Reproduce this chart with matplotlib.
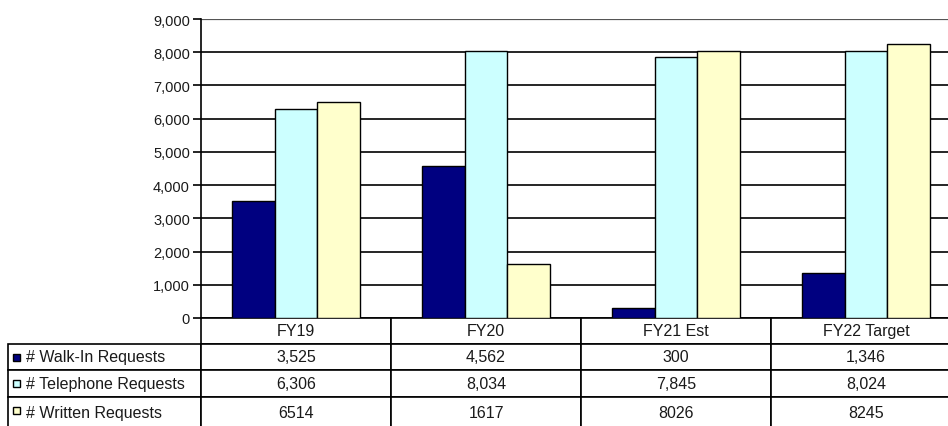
import matplotlib
matplotlib.use("Agg")
import matplotlib.pyplot as plt
from matplotlib.table import Table
from matplotlib.patches import Rectangle
import numpy as np

categories = ["FY19", "FY20", "FY21 Est", "FY22 Target"]
series_names = ["# Walk-In Requests", "# Telephone Requests", "# Written Requests"]
walk_in = [3525, 4562, 300, 1346]
telephone = [6306, 8034, 7845, 8024]
written = [6514, 1617, 8026, 8245]
walk_in_labels = ["3,525", "4,562", "300", "1,346"]
telephone_labels = ["6,306", "8,034", "7,845", "8,024"]
written_labels = ["6514", "1617", "8026", "8245"]
yticks = [0, 1000, 2000, 3000, 4000, 5000, 6000, 7000, 8000, 9000]

colors = ["#000080", "#CCFFFF", "#FFFFCC"]
series = [walk_in, telephone, written]
labels = [walk_in_labels, telephone_labels, written_labels]

plt.rcParams['font.family'] = ['Liberation Sans', 'DejaVu Sans']

W, H = 948, 427
fig = plt.figure(figsize=(W / 100, H / 100), dpi=100)
ax_l, ax_r, ax_t, ax_b = 201, 961, 20, 319
ax = fig.add_axes([ax_l / W, (H - ax_b) / H, (ax_r - ax_l) / W, (ax_b - ax_t) / H])

x = np.arange(len(categories))
bw = 0.225
for i, (vals, c) in enumerate(zip(series, colors)):
    ax.bar(x + (i - 1) * bw, vals, width=bw, color=c, edgecolor="black",
           linewidth=1.0, zorder=3)

ax.set_xlim(-0.5, len(categories) - 0.5)
ax.set_ylim(0, 9000)
ax.set_yticks(yticks)
ax.set_yticklabels([f"{v:,}" for v in yticks], fontsize=10.5, color="#1a1a1a")
ax.set_xticks([])
ax.yaxis.grid(True, color="black", linewidth=1.2, zorder=0)
ax.set_axisbelow(True)
for s in ["top", "right", "bottom"]:
    ax.spines[s].set_visible(False)
ax.spines["left"].set_linewidth(1.2)
ax.tick_params(axis="y", length=6, width=1.2, pad=2)
ax.axhline(9000, color="#555555", linewidth=1.6, zorder=1)

# data table
bottom_px = 430
tbl = Table(ax, bbox=[(8 - ax_l) / (ax_r - ax_l), -(bottom_px - ax_b) / (ax_b - ax_t),
                      (ax_r - 8) / (ax_r - ax_l), (bottom_px - ax_b) / (ax_b - ax_t)])
label_w = ax_l - 8
col_w = 190
row_hs = [26, 26, 27, 32]
for j, cat in enumerate(categories):
    cell = tbl.add_cell(0, j + 1, width=col_w, height=row_hs[0], text=cat, loc="center")
    cell.set_linewidth(1.2)
cell = tbl.add_cell(0, 0, width=label_w, height=row_hs[0], text="")
cell.set_linewidth(0)
cell.set_edgecolor("white")
for r in range(3):
    cell = tbl.add_cell(r + 1, 0, width=label_w, height=row_hs[r + 1],
                        text=series_names[r], loc="left")
    cell.set_linewidth(1.2)
    cell.PAD = 0.095
    for j in range(len(categories)):
        cell = tbl.add_cell(r + 1, j + 1, width=col_w, height=row_hs[r + 1],
                            text=labels[r][j], loc="center")
        cell.set_linewidth(1.2)
tbl.auto_set_font_size(False)
tbl.set_fontsize(11.5)
for (r, c), cell in tbl.get_celld().items():
    cell.get_text().set_color("#1a1a1a")
# keep last row text centred on the visible part
for c in range(len(categories) + 1):
    tbl[3, c].get_text().set_va("center")
ax.add_table(tbl)

# legend keys in row labels
sq = 7
ys_top = [ax_b + row_hs[0]]
for h in row_hs[1:3]:
    ys_top.append(ys_top[-1] + h)
vis_h = [26, 27, 27]
for r in range(3):
    cy = ys_top[r] + vis_h[r] / 2
    rect = Rectangle((13 / W, (H - cy - sq / 2) / H), sq / W, sq / H,
                     transform=fig.transFigure, facecolor=colors[r],
                     edgecolor="black", linewidth=1.0, zorder=5)
    fig.patches.append(rect)

fig.savefig("out.png", dpi=100)
